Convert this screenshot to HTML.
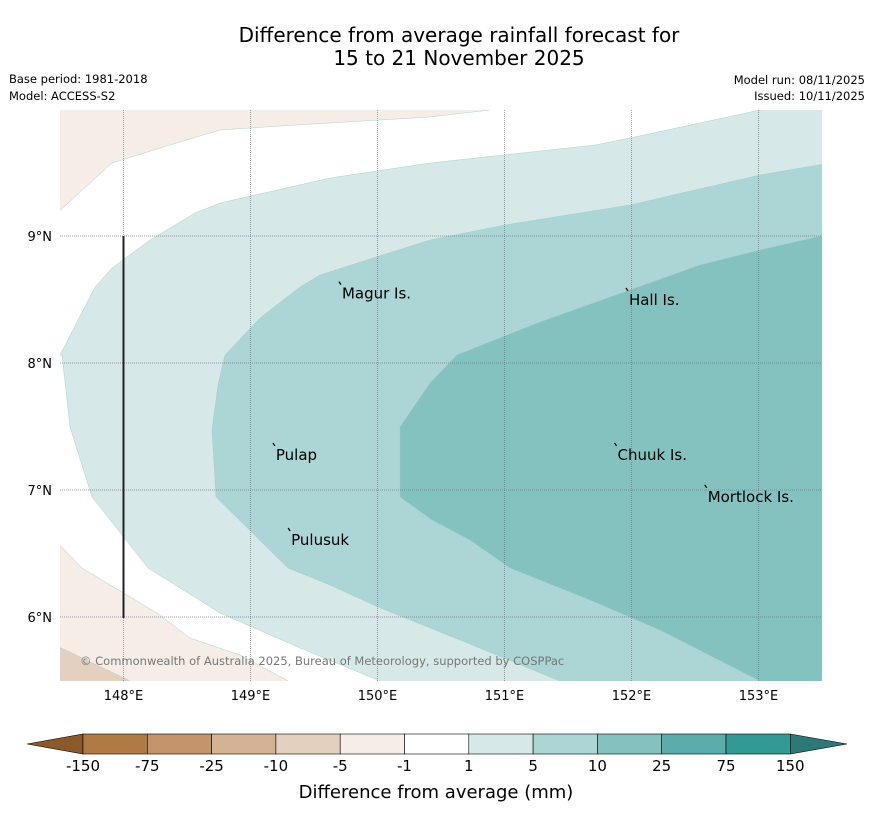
<!DOCTYPE html>
<html><head><meta charset="utf-8"><style>
body{margin:0;background:#fff;font-family:"Liberation Sans","DejaVu Sans",sans-serif}
svg text{font-family:"DejaVu Sans","Liberation Sans",sans-serif}
</style></head><body>
<svg id="c" width="873" height="816" viewBox="0 0 873 816">
<text x="459" y="42" font-size="20" text-anchor="middle">Difference from average rainfall forecast for</text>
<text x="459" y="65" font-size="20" text-anchor="middle">15 to 21 November 2025</text>
<text x="9" y="83" font-size="11.5">Base period: 1981-2018</text>
<text x="9" y="100" font-size="11.5">Model: ACCESS-S2</text>
<text x="865" y="84" font-size="11.5" text-anchor="end">Model run: 08/11/2025</text>
<text x="865" y="100" font-size="11.5" text-anchor="end">Issued: 10/11/2025</text>
<defs><clipPath id="mc"><rect x="60" y="110" width="762" height="571"/></clipPath></defs>
<g id="map" clip-path="url(#mc)"></g>
<g id="ov"></g>
<g id="cb"></g>
<text x="436" y="798" font-size="18" text-anchor="middle">Difference from average (mm)</text>
</svg>
<script>
const NS="http://www.w3.org/2000/svg";
const lonTicks=[148,149,150,151,152,153];
const latTicks=[9,8,7,6];
const cbLabels=["-150","-75","-25","-10","-5","-1","1","5","10","25","75","150"];
const cbColors=["#b07a45","#c4956a","#d4b394","#e4d0be","#f5ede6","#ffffff","#d6e9e8","#acd6d5","#84c2c0","#5aadaa","#339995"];
const bandLight=[[60,355],[95,287],[112,268],[150,240],[195,213],[220,203],[330,178],[430,163],[595,145],[630,138],[760,110],[830,105],[830,690],[400,690],[380,681],[300,648],[220,613],[148,568],[92,497],[70,427],[62,355]];
const band510=[[225,355],[260,318],[300,287],[320,275],[430,240],[505,225],[630,205],[760,175],[830,163],[830,690],[580,690],[560,681],[460,640],[378,607],[330,585],[288,568],[216,497],[212,430],[218,385]];
const band1025=[[400,427],[430,383],[457,355],[540,322],[630,290],[700,265],[760,250],[830,234],[830,690],[770,690],[760,681],[660,630],[590,600],[510,568],[470,540],[432,520],[400,497]];
const brownTop=[[55,105],[490,105],[490,110],[430,117],[280,126],[220,130],[170,145],[112,163],[55,215]];
const brownBot=[[55,540],[82,568],[157,613],[190,638],[240,655],[305,690],[55,690]];
const brownDark=[[55,645],[130,681],[140,690],[55,690]];
const places=[["Magur Is.",149.72,8.57],["Hall Is.",151.98,8.52],["Pulap",149.2,7.3],["Chuuk Is.",151.89,7.3],["Mortlock Is.",152.6,6.97],["Pulusuk",149.32,6.63]];
const X0=60,X1=822,Y0=110,Y1=681,LON0=147.5,PX=127,LAT0=9,Y9=236;
const xs=lon=>X0+(lon-LON0)*PX, ys=lat=>Y9+(LAT0-lat)*PX;
const map=document.getElementById('map'),ov=document.getElementById('ov'),cb=document.getElementById('cb');
function mk(t,a,p){const e=document.createElementNS(NS,t);for(const k in a)e.setAttribute(k,a[k]);(p||map).appendChild(e);return e;}
function poly(pts,fill,name){const e=mk('polygon',{points:pts.map(p=>p.join(',')).join(' '),fill:fill,stroke:'#9cb',"stroke-width":0.4});

}
poly(brownTop,"#f5ede6","contour-minus5-north");
poly(brownBot,"#f5ede6","contour-minus5-south");
poly(brownDark,"#e4d0be","contour-minus10-south");
poly(bandLight,"#d6e9e8","contour-1-5");
poly(band510,"#acd6d5","contour-5-10");
poly(band1025,"#84c2c0","contour-10-25");
lonTicks.forEach(l=>{const x=xs(l);const g=mk('line',{x1:x,x2:x,y1:Y0,y2:Y1,stroke:'#778',"stroke-width":0.7,"stroke-dasharray":"1,1"},ov);


const t=mk('text',{x:x,y:700,"font-size":13,"text-anchor":"middle"},ov);t.textContent=l+"°E";

});
latTicks.forEach(l=>{const y=ys(l);const g=mk('line',{x1:X0,x2:X1,y1:y,y2:y,stroke:'#778',"stroke-width":0.7,"stroke-dasharray":"1,1"},ov);


const t=mk('text',{x:52,y:y+5,"font-size":13,"text-anchor":"end"},ov);t.textContent=l+"°N";

});
const bl=mk('line',{x1:123.5,x2:123.5,y1:236,y2:618,stroke:'#222',"stroke-width":2},ov);


places.forEach(p=>{const x=xs(p[1]),y=ys(p[2]);
const d=mk('path',{d:`M${x-3},${y-9} l2,3`,fill:'none',stroke:'#000',"stroke-width":1.2},ov);


const t=mk('text',{x:x,y:y+8,"font-size":15},ov);t.textContent=p[0];

});
const cp=mk('text',{x:80,y:665,"font-size":11.5,fill:'#777'},ov);cp.textContent="© Commonwealth of Australia 2025, Bureau of Meteorology, supported by COSPPac";


const CB0=83,CBW=64.3,CY=734,CH=20;
const la=mk('polygon',{points:`27,744 ${CB0},${CY} ${CB0},${CY+CH}`,fill:'#8b5a2b',stroke:'#000',"stroke-width":0.6},cb);


cbColors.forEach((c,i)=>{const r=mk('rect',{x:CB0+i*CBW,y:CY,width:CBW,height:CH,fill:c,stroke:'#000',"stroke-width":0.6},cb);

});
const xe=CB0+cbColors.length*CBW;
const ra=mk('polygon',{points:`${xe},${CY} 847,744 ${xe},${CY+CH}`,fill:'#2a7a77',stroke:'#000',"stroke-width":0.6},cb);


cbLabels.forEach((l,i)=>{const t=mk('text',{x:CB0+i*CBW,y:771,"font-size":15,"text-anchor":"middle"},cb);t.textContent=l;

});
</script>
</body></html>
